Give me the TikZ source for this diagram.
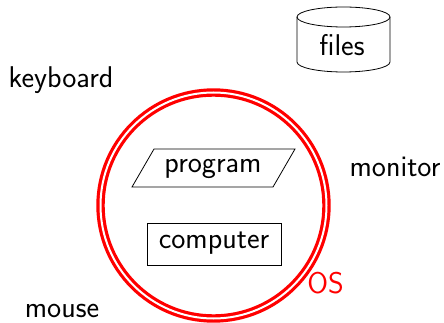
\documentclass[tikz,border=0pt]{standalone}
\usetikzlibrary{shapes.geometric}
\begin{document}
\begin{tikzpicture}[x=1pt,y=-1pt,
  lbl/.style={font=\sffamily\fontsize{30}{36}\selectfont, inner sep=0pt, anchor=base},
  box/.style={draw=black, line width=0.8pt},
  ring/.style={draw=red, line width=3.2pt, double=white, double distance=2pt, circle, minimum size=226pt, inner sep=0pt}]
\useasboundingbox (0,0) rectangle (444,323);
% OS ring
\node[ring] (os) at (213.5,205.5) {};
% files cylinder
\draw[box] (297,17) -- (297,62) arc[start angle=180, end angle=0, x radius=46.5, y radius=10] -- (390,17);
\draw[box] (343.5,17) ellipse [x radius=46.5, y radius=10];
\node[lbl] (files) at (342,56) {files};
% program parallelogram
\draw[box] (154,149) -- (295,149) -- (273,187) -- (132,187) -- cycle;
\node[lbl] (program) at (213,172) {program};
% computer
\draw[box] (147,223) rectangle (281,265);
\node[lbl] (computer) at (214,248) {computer};
% labels
\node[lbl] (keyboard) at (61,88) {keyboard};
\node[lbl] (monitor) at (395,177) {monitor};
\node[lbl] (mouse) at (62,317) {mouse};
\node[lbl, text=red] (oslabel) at (325.5,293) {OS};
\end{tikzpicture}
\end{document}
